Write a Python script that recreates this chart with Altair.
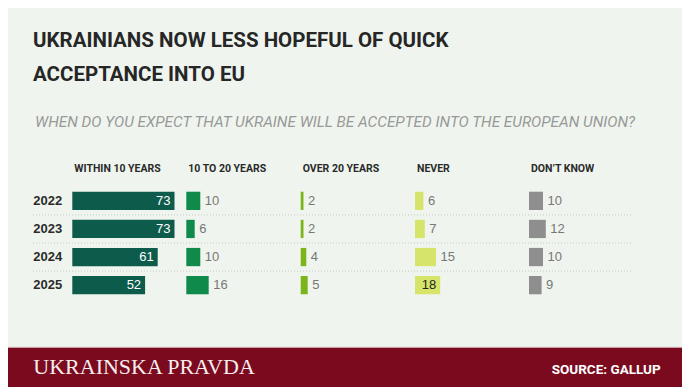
import altair as alt
import pandas as pd

# ---------------- data ----------------
years = ["2022", "2023", "2024", "2025"]
categories = ["WITHIN 10 YEARS", "10 TO 20 YEARS", "OVER 20 YEARS", "NEVER", "DON\u2019T KNOW"]
within_10_years = [73, 73, 61, 52]
from_10_to_20_years = [10, 6, 10, 16]
over_20_years = [2, 2, 4, 5]
never = [6, 7, 15, 18]
dont_know = [10, 12, 10, 9]

title_lines = ["UKRAINIANS NOW LESS HOPEFUL OF QUICK", "ACCEPTANCE INTO EU"]
subtitle_text = "WHEN DO YOU EXPECT THAT UKRAINE WILL BE ACCEPTED INTO THE EUROPEAN UNION?"
brand_text = "UKRAINSKA PRAVDA"
source_text = "SOURCE: GALLUP"

series = [within_10_years, from_10_to_20_years, over_20_years, never, dont_know]

# ---------------- style / layout ----------------
W, H = 674, 379
BG = "#eff5ee"
colors = ["#0d5c4b", "#108a4b", "#7cb51b", "#d6e46a", "#8e8e8e"]
col_starts = [64.3, 178.3, 292.7, 407.0, 521.0]
PX_PER_UNIT = 1.4
STEP = 28.1
PAD_IN = 0.35
NARROW = "Roboto, Liberation Sans, sans-serif"
SANS = "Liberation Sans, Arial, sans-serif"
SERIF = "Liberation Serif, Times New Roman, serif"

yscale = alt.Scale(domain=years, range=[178.8, 178.8 + 4 * STEP],
                   paddingInner=PAD_IN, paddingOuter=PAD_IN / 2)


def one(**kw):
    return pd.DataFrame({k: [v] for k, v in kw.items()})


def column(i):
    vals = series[i]
    df = pd.DataFrame({"year": years, "value": vals, "category": categories[i]})
    if i == 0:
        df["pos"] = "in"
        df["tcolor"] = "#ffffff"
    else:
        df["pos"] = ["in" if (i == 3 and v == max(vals)) else "out" for v in vals]
        df["tcolor"] = "#222222"
    xs = alt.Scale(domain=[0, 100], range=[col_starts[i], col_starts[i] + 100 * PX_PER_UNIT],
                   nice=False, zero=True)
    base = alt.Chart(df)
    bar = base.mark_bar(color=colors[i]).encode(
        x=alt.X("value:Q", scale=xs, axis=None),
        y=alt.Y("year:N", scale=yscale, axis=None),
    )
    out_lbl = base.transform_filter("datum.pos == 'out'").mark_text(
        align="left", baseline="middle", dx=4.5, font=SANS, fontSize=13, color="#777777"
    ).encode(
        x=alt.X("value:Q", scale=xs, axis=None),
        y=alt.Y("year:N", scale=yscale, axis=None),
        text="value:Q",
    )
    in_lbl = base.transform_filter("datum.pos == 'in'").mark_text(
        align="right", baseline="middle", dx=-4, font=SANS, fontSize=13
    ).encode(
        x=alt.X("value:Q", scale=xs, axis=None),
        y=alt.Y("year:N", scale=yscale, axis=None),
        text="value:Q",
        color=alt.Color("tcolor:N", scale=None),
    )
    header = alt.Chart(one(category=categories[i])).mark_text(
        align="left", baseline="alphabetic", dx=2, font=NARROW, fontWeight="bold",
        fontSize=10.5, color="#2a2a2a"
    ).encode(
        x=alt.X(datum=0, type="quantitative", scale=xs, axis=None),
        y=alt.value(163.7),
        text="category:N",
    )
    return alt.layer(bar, out_lbl, in_lbl, header)


columns = [column(i) for i in range(5)]

year_labels = alt.Chart(pd.DataFrame({"year": years})).mark_text(
    align="left", baseline="middle", font=SANS, fontWeight="bold", fontSize=13, color="#2b2b2b"
).encode(
    x=alt.value(25.3),
    y=alt.Y("year:N", scale=yscale, axis=None),
    text="year:N",
)

separators = alt.Chart(pd.DataFrame({"year": years[1:]})).mark_rule(
    color="#c4cbc4", strokeDash=[1, 2], strokeWidth=1
).encode(
    x=alt.value(25), x2=alt.value(625),
    y=alt.Y("year:N", scale=yscale, axis=None, bandPosition=0),
    yOffset=alt.value(-PAD_IN * STEP / 2),
)

title1 = alt.Chart(one(t=title_lines[0])).mark_text(
    align="left", baseline="alphabetic", font=NARROW, fontWeight="bold", fontSize=20.5, color="#262626"
).encode(x=alt.value(25), y=alt.value(39), text="t:N")
title2 = alt.Chart(one(t=title_lines[1])).mark_text(
    align="left", baseline="alphabetic", font=NARROW, fontWeight="bold", fontSize=20.5, color="#262626"
).encode(x=alt.value(25), y=alt.value(73), text="t:N")
subtitle = alt.Chart(one(t=subtitle_text)).mark_text(
    align="left", baseline="alphabetic", font=NARROW, fontStyle="italic", fontSize=15.3, color="#999999"
).encode(x=alt.value(27), y=alt.value(119), text="t:N")

footer_line = alt.Chart(one(a=0)).mark_rect(color="#dcc6c8").encode(
    x=alt.value(0), x2=alt.value(W), y=alt.value(338.7), y2=alt.value(339.7)
)
footer_band = alt.Chart(one(a=0)).mark_rect(color="#7b0a1f").encode(
    x=alt.value(0), x2=alt.value(W), y=alt.value(339.7), y2=alt.value(H)
)
brand = alt.Chart(one(t=brand_text)).mark_text(
    align="left", baseline="alphabetic", font=SERIF, fontSize=22, color="#f6eeee"
).encode(x=alt.value(25.3), y=alt.value(366.3), text="t:N")
source = alt.Chart(one(t=source_text)).mark_text(
    align="right", baseline="alphabetic", font=NARROW, fontWeight="bold", fontSize=13.5, color="#ffffff"
).encode(x=alt.value(652.7), y=alt.value(366.3), text="t:N")

chart = alt.layer(
    separators, year_labels, *columns, title1, title2, subtitle,
    footer_line, footer_band, brand, source
).resolve_scale(x="independent").properties(
    width=W, height=H, padding=0, autosize=alt.AutoSizeParams(type="none"), background=BG
).configure_view(stroke=None)

chart.save("out.html", embed_options={"renderer": "svg", "actions": False})
